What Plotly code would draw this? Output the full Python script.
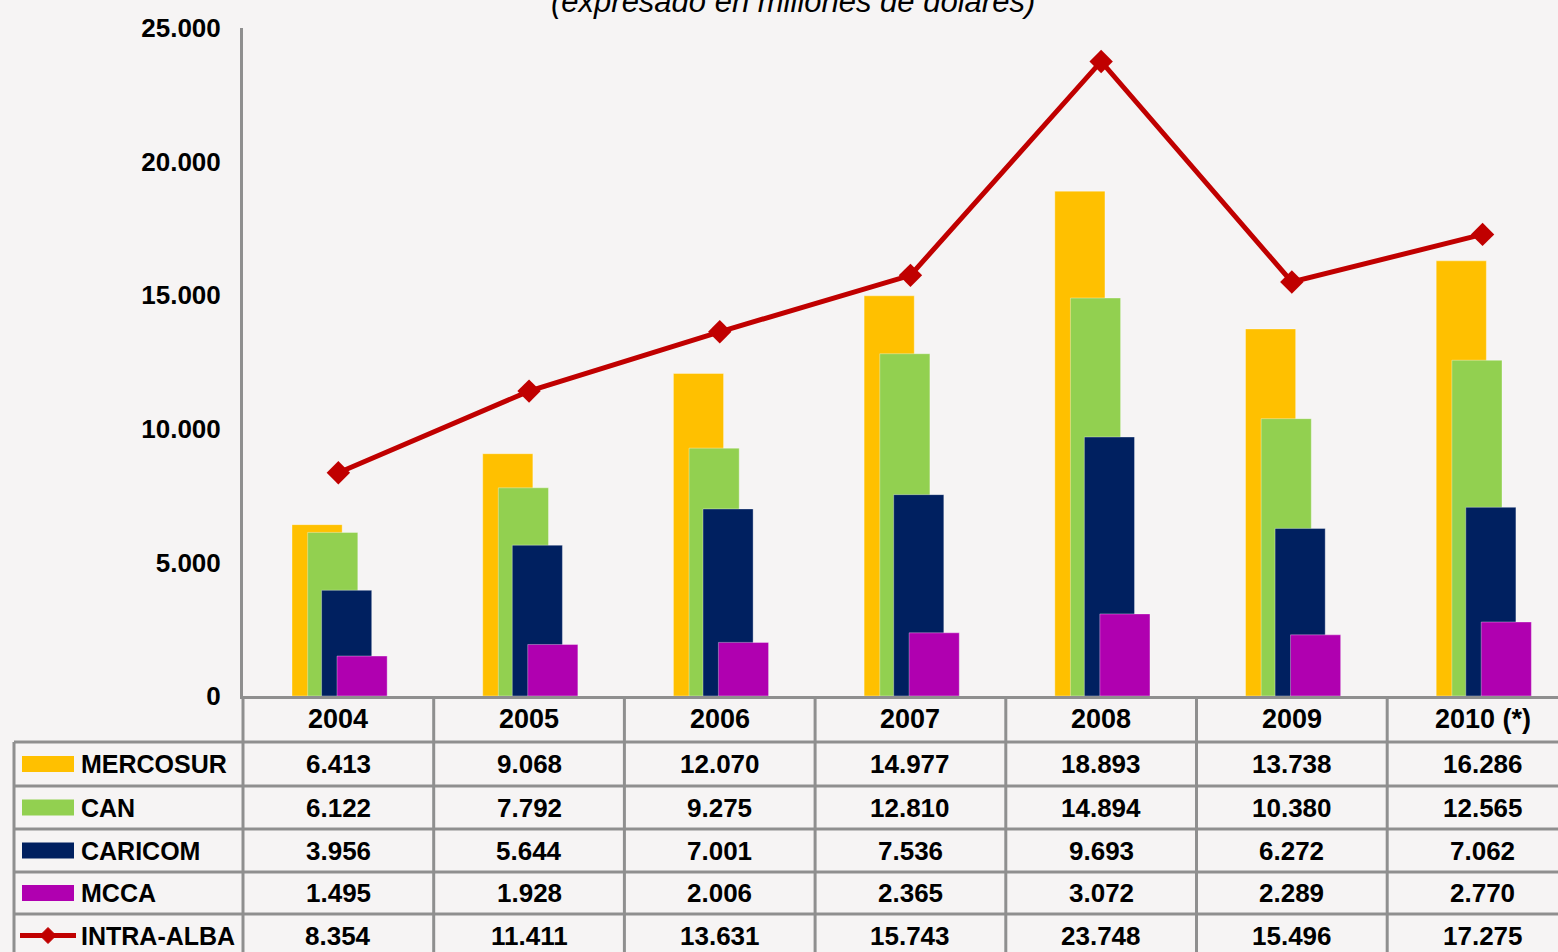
import plotly.graph_objects as go

years = ["2004", "2005", "2006", "2007", "2008", "2009", "2010 (*)"]
mercosur = [6413, 9068, 12070, 14977, 18893, 13738, 16286]
can = [6122, 7792, 9275, 12810, 14894, 10380, 12565]
caricom = [3956, 5644, 7001, 7536, 9693, 6272, 7062]
mcca = [1495, 1928, 2006, 2365, 3072, 2289, 2770]
intra_alba = [8354, 11411, 13631, 15743, 23748, 15496, 17275]

series_names = ["MERCOSUR", "CAN", "CARICOM", "MCCA", "INTRA-ALBA"]
colors = ["#FFC000", "#92D050", "#002060", "#B000B0", "#C00000"]
bar_offsets = [-0.243, -0.161, -0.088, -0.007]
bar_width = 0.263

W, H = 1558, 952
ML, MR, MT, MB = 243, 0, 28, 256
PW, PH = W - ML - MR, H - MT - MB
XMIN, XMAX = -0.5, -0.5 + PW / 190.7

FONT = "Liberation Sans, Arial, sans-serif"
GRID = "#8f8f8f"


def py(p):
    return (H - MB - p) / PH


def pxx(p):
    return (p - ML) / PW


def cx(i):
    return (i - XMIN) / (XMAX - XMIN)


def fmt(v):
    return f"{v:,}".replace(",", ".")


x = list(range(len(years)))
fig = go.Figure()
for vals, name, col, off in zip([mercosur, can, caricom, mcca], series_names[:4], colors[:4], bar_offsets):
    fig.add_trace(go.Bar(x=x, y=vals, name=name,
                         marker=dict(color=col, line=dict(width=1, color="rgba(255,255,255,0.35)")),
                         width=bar_width, offset=off))
fig.add_trace(go.Scatter(x=x, y=intra_alba, name="INTRA-ALBA", mode="lines+markers",
                         line=dict(color=colors[4], width=5),
                         marker=dict(symbol="diamond", size=18, color=colors[4]),
                         cliponaxis=False))

shapes = []
annotations = []

# table grid
row_lines = [742, 786, 829, 872, 914]
row_centers = [764, 807.5, 850.5, 893, 935.5]
bottom = H + 20
for rl in row_lines:
    shapes.append(dict(type="line", xref="paper", yref="paper", x0=pxx(14), x1=1.0,
                       y0=py(rl), y1=py(rl), line=dict(color=GRID, width=3)))
shapes.append(dict(type="line", xref="paper", yref="paper", x0=pxx(14), x1=pxx(14),
                   y0=py(742), y1=py(bottom), line=dict(color=GRID, width=3)))
for k in range(len(years) + 1):
    xx = cx(k - 0.5)
    if xx > 1:
        continue
    shapes.append(dict(type="line", xref="paper", yref="paper", x0=xx, x1=xx,
                       y0=py(H - MB), y1=py(bottom), line=dict(color=GRID, width=3)))

# header
for i, yr in enumerate(years):
    annotations.append(dict(xref="paper", yref="paper", x=cx(i), y=py(719), text=f"<b>{yr}</b>",
                            showarrow=False, xanchor="center", yanchor="middle",
                            font=dict(family=FONT, size=27, color="#000000")))

all_vals = [mercosur, can, caricom, mcca, intra_alba]
for r, (name, vals, col) in enumerate(zip(series_names, all_vals, colors)):
    yc = py(row_centers[r])
    annotations.append(dict(xref="paper", yref="paper", x=pxx(79), y=yc, text=f"<b>{name}</b>",
                            showarrow=False, xanchor="left", yanchor="middle",
                            font=dict(family=FONT, size=25, color="#000000")))
    for i, v in enumerate(vals):
        annotations.append(dict(xref="paper", yref="paper", x=cx(i), y=yc, text=f"<b>{fmt(v)}</b>",
                                showarrow=False, xanchor="center", yanchor="middle",
                                font=dict(family=FONT, size=26, color="#000000")))
    if r < 4:
        shapes.append(dict(type="rect", xref="paper", yref="paper", x0=pxx(22), x1=pxx(74),
                           y0=py(row_centers[r] - 8), y1=py(row_centers[r] + 8),
                           fillcolor=col, line=dict(width=0)))
    else:
        shapes.append(dict(type="line", xref="paper", yref="paper", x0=pxx(20), x1=pxx(76),
                           y0=yc, y1=yc, line=dict(color=col, width=5)))
        shapes.append(dict(type="path", xref="paper", yref="paper", xsizemode="pixel",
                           ysizemode="pixel", xanchor=pxx(48), yanchor=yc,
                           path="M -8,0 L 0,8 L 8,0 L 0,-8 Z", fillcolor=col,
                           line=dict(color=col, width=1)))

annotations.append(dict(xref="paper", yref="paper", x=pxx(793), y=py(2),
                        text="(expresado en millones de dólares)", showarrow=False,
                        xanchor="center", yanchor="middle",
                        font=dict(family=FONT, size=31, color="#000000", style="italic")))

fig.update_layout(
    width=W, height=H,
    margin=dict(l=ML, r=MR, t=MT, b=MB, pad=0),
    paper_bgcolor="#f6f4f4", plot_bgcolor="rgba(0,0,0,0)",
    barmode="overlay", showlegend=False, separators=",.",
    shapes=shapes, annotations=annotations,
    xaxis=dict(range=[XMIN, XMAX], showticklabels=False, showgrid=False, zeroline=False,
               showline=True, linecolor=GRID, linewidth=3, ticks=""),
    yaxis=dict(range=[0, 25000], tickvals=[0, 5000, 10000, 15000, 20000, 25000],
               tickformat=",d", showgrid=False, zeroline=False, showline=True,
               linecolor=GRID, linewidth=3, ticks="", ticklabelstandoff=14,
               tickfont=dict(family=FONT, size=26, color="#000000", weight="bold")),
)

fig.write_html("out.html", config={"displayModeBar": False},
               post_script="document.body.style.margin='0';document.body.style.overflow='hidden';")
